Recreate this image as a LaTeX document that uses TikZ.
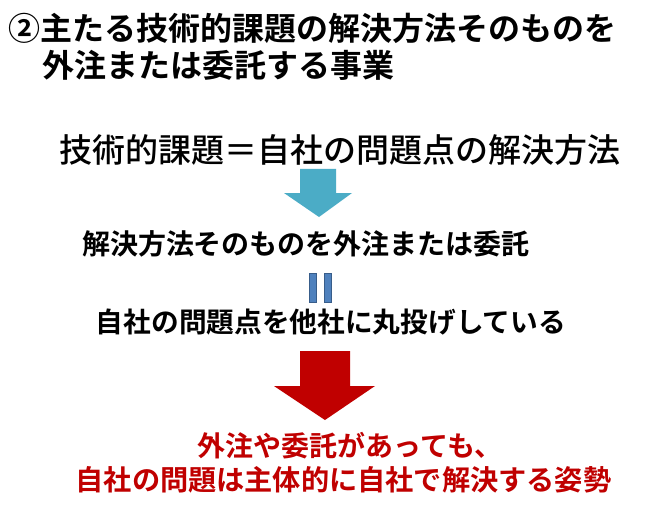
\documentclass[tikz,border=0pt]{standalone}
\usepackage{fontspec}
\setmainfont{Noto Sans CJK JP}
\newfontfamily\jpbold{Noto Sans CJK JP Bold}
\newfontfamily\jpmed{Noto Sans CJK JP Medium}
\definecolor{arrowblue}{HTML}{4BACC6}
\definecolor{barblue}{HTML}{4F81BD}
\definecolor{barborder}{HTML}{385D8A}
\definecolor{deepred}{HTML}{C00000}
\begin{document}
\begin{tikzpicture}[x=1pt,y=-1pt,
  mtxt/.style={inner sep=0pt, font=\jpmed\fontsize{#1}{#1}\selectfont},
  btxt/.style={inner sep=0pt, font=\jpbold\fontsize{#1}{#1}\selectfont}]
\useasboundingbox (0,0) rectangle (649,511);
\fill[white] (0,0) rectangle (649,511);
% title
\node[btxt=32, anchor=west] (t1) at (8,28) {②主たる技術的課題の解決方法そのものを};
\node[btxt=32, anchor=west] (t2) at (42,65) {外注または委託する事業};
% line A
\node[mtxt=33] (la) at (340,150) {技術的課題＝自社の問題点の解決方法};
% blue arrow
\fill[arrowblue] (300,169) -- (336,169) -- (336,193) -- (352,193) -- (319,217) -- (284,193) -- (300,193) -- cycle;
% line B
\node[btxt=28] (lb) at (306,244) {解決方法そのものを外注または委託};
% equals bars
\filldraw[fill=barblue, draw=barborder, line width=1pt] (309,273) rectangle (316,302);
\filldraw[fill=barblue, draw=barborder, line width=1pt] (324,273) rectangle (331,302);
% line C
\node[btxt=27.7] (lc) at (331,322) {自社の問題点を他社に丸投げしている};
% red arrow
\fill[deepred] (300,351) -- (350,351) -- (350,386) -- (375,386) -- (325,420) -- (274,386) -- (300,386) -- cycle;
% red text
\node[btxt=28, text=deepred] (r1) at (350,446) {外注や委託があっても、};
\node[btxt=28.2, text=deepred] (r2) at (343.5,480) {自社の問題は主体的に自社で解決する姿勢};
\end{tikzpicture}
\end{document}
